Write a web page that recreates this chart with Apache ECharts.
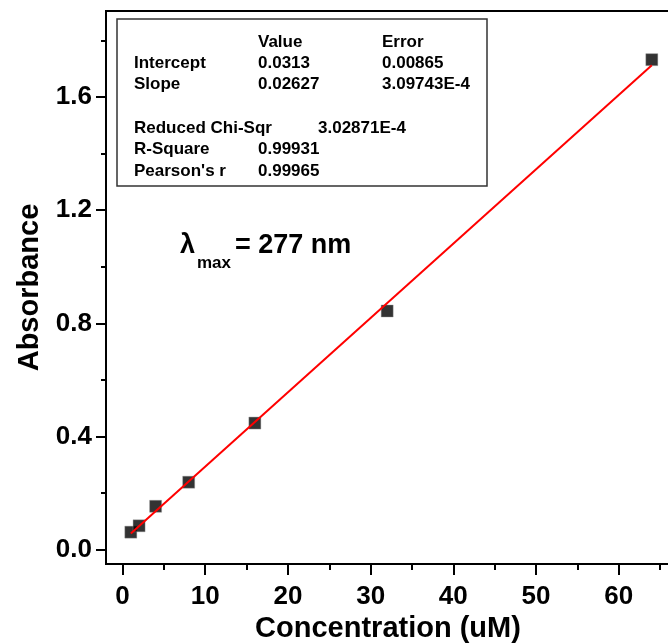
<!DOCTYPE html>
<html><head><meta charset="utf-8">
<script src="https://cdn.jsdelivr.net/npm/echarts@6/dist/echarts.min.js"></script>
<style>html,body{margin:0;padding:0;background:#fff}#c{width:668px;height:644px}</style>
</head><body><div id="c"></div>
<script>
const concentration = [1, 2, 4, 8, 16, 32, 64];
const absorbance = [0.0625, 0.085, 0.154, 0.239, 0.448, 0.844, 1.732];
const fitIntercept = 0.0313;
const fitSlope = 0.02627;
const fitRange = [1, 64];
const xMajorTicks = [0, 10, 20, 30, 40, 50, 60];
const xMinorTicks = [5, 15, 25, 35, 45, 55, 65];
const yMajorTicks = [0, 0.4, 0.8, 1.2, 1.6];
const yMinorTicks = [0.2, 0.6, 1.0, 1.4, 1.8];
const statsHeader = ['Value', 'Error'];
const statsRows = [['Intercept', '0.0313', '0.00865'], ['Slope', '0.02627', '3.09743E-4']];
const statsExtra = [['Reduced Chi-Sqr', '3.02871E-4'], ['R-Square', '0.99931'], ["Pearson's r", '0.99965']];

const FONT = "'Liberation Sans', Arial, sans-serif";
const fitLine = fitRange.map(x => [x, fitIntercept + fitSlope * x]);
const XMIN = -2, XMAX = 66.2, YMIN = -0.05, YMAX = 1.904;

const chart = echarts.init(document.getElementById('c'), null, {renderer: 'canvas'});
const g = [];
g.push({type: 'rect', shape: {x: 117, y: 19, width: 370, height: 167}, style: {fill: '#fff', stroke: '#333', lineWidth: 1.5}, z: 10});
const gt = (text, x, y, size) => ({type: 'text', x, y, z: 11, style: {text, fill: '#000', font: `bold ${size}px ${FONT}`, verticalAlign: 'middle', align: 'left'}});
g.push(gt(statsHeader[0], 258, 42, 17));
g.push(gt(statsHeader[1], 382, 42, 17));
statsRows.forEach((r, i) => { const y = 63 + i * 21; g.push(gt(r[0], 134, y, 17)); g.push(gt(r[1], 258, y, 17)); g.push(gt(r[2], 382, y, 17)); });
statsExtra.forEach((r, i) => { const y = 128 + i * 21.5; g.push(gt(r[0], 134, y, 17)); g.push(gt(r[1], i === 0 ? 318 : 258, y, 17)); });
g.push(gt('λ', 180, 246, 27));
g.push(gt('max', 197, 263, 17));
g.push(gt('= 277 nm', 235, 246, 27));

const axisBase = {type: 'value', splitLine: {show: false}};
const line = {show: true, onZero: false, lineStyle: {color: '#000', width: 2}};
const noLine = {show: false, onZero: false};
chart.setOption({
  animation: false,
  grid: {left: 106, top: 11, right: -2, bottom: 80, outerBoundsMode: 'none', containLabel: false,
    show: true, borderColor: '#000', borderWidth: 2, backgroundColor: '#fff'},
  xAxis: [
    Object.assign({}, axisBase, {min: XMIN, max: XMAX, position: 'bottom',
      name: 'Concentration (uM)', nameLocation: 'middle', nameGap: 50,
      nameTextStyle: {color: '#000', fontFamily: FONT, fontWeight: 'bold', fontSize: 29},
      axisLine: line,
      axisTick: {show: true, inside: false, length: 11, lineStyle: {color: '#000', width: 2}, customValues: xMajorTicks},
      axisLabel: {show: true, color: '#000', fontFamily: FONT, fontWeight: 'bold', fontSize: 26, margin: 20, customValues: xMajorTicks}}),
    Object.assign({}, axisBase, {min: XMIN, max: XMAX, position: 'bottom', offset: 0,
      axisLine: noLine,
      axisTick: {show: true, inside: false, length: 6, lineStyle: {color: '#000', width: 2}, customValues: xMinorTicks},
      axisLabel: {show: false}})
  ],
  yAxis: [
    Object.assign({}, axisBase, {min: YMIN, max: YMAX, position: 'left',
      name: 'Absorbance', nameLocation: 'middle', nameGap: 62, nameRotate: 90,
      nameTextStyle: {color: '#000', fontFamily: FONT, fontWeight: 'bold', fontSize: 29},
      axisLine: line,
      axisTick: {show: true, inside: false, length: 10, lineStyle: {color: '#000', width: 2}, customValues: yMajorTicks},
      axisLabel: {show: true, color: '#000', fontFamily: FONT, fontWeight: 'bold', fontSize: 26, margin: 14, customValues: yMajorTicks, formatter: v => v.toFixed(1)}}),
    Object.assign({}, axisBase, {min: YMIN, max: YMAX, position: 'left', offset: 0,
      axisLine: noLine,
      axisTick: {show: true, inside: false, length: 5, lineStyle: {color: '#000', width: 2}, customValues: yMinorTicks},
      axisLabel: {show: false}})
  ],
  series: [
    {type: 'scatter', xAxisIndex: 0, yAxisIndex: 0, symbol: 'rect', symbolSize: 12,
      itemStyle: {color: '#000', borderColor: '#999', borderWidth: 0.5}, data: concentration.map((x, i) => [x, absorbance[i]]), z: 2},
    {type: 'line', xAxisIndex: 0, yAxisIndex: 0, data: fitLine, symbol: 'none', lineStyle: {color: '#ff0000', width: 2}, z: 3}
  ],
  graphic: g
});
</script></body></html>
